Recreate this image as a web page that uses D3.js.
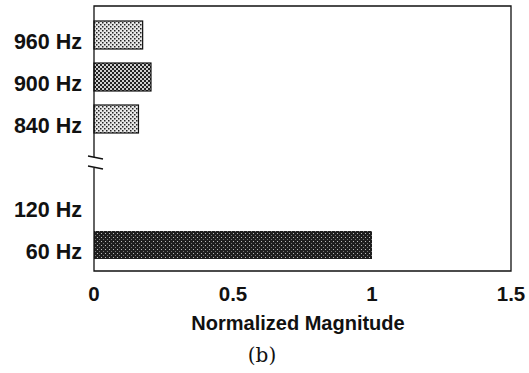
<!DOCTYPE html>
<html>
<head>
<meta charset="utf-8">
<script src="https://cdn.jsdelivr.net/npm/d3@7"></script>
<style>
  body { margin: 0; background: #fff; }
  text { font-family: "Liberation Sans", Arial, sans-serif; font-weight: bold; fill: #111; }
  .caption { font-family: "DejaVu Serif", "Liberation Serif", serif; font-weight: normal; }
</style>
</head>
<body>
<div id="container"></div>
<script>
const categories = ["960 Hz", "900 Hz", "840 Hz", "", "120 Hz", "60 Hz"];
const magnitudes = [0.175, 0.205, 0.16, null, 0, 1.0];
const fills = ["light", "medium", "light", null, null, "dark"];
const xTicks = [0, 0.5, 1, 1.5];
const xTickLabels = ["0", "0.5", "1", "1.5"];

const width = 529;
const height = 373;
const box = { left: 94, right: 511, top: 6, bot: 271 };

const svg = d3.select("#container")
              .append("svg")
              .attr("width", width)
              .attr("height", height);

// stipple patterns
const defs = svg.append("defs");
const light = defs.append("pattern").attr("id", "light")
                  .attr("width", 4).attr("height", 4).attr("patternUnits", "userSpaceOnUse");
light.append("rect").attr("width", 4).attr("height", 4).attr("fill", "#e8e8e8");
light.append("rect").attr("x", 0).attr("y", 0).attr("width", 1.5).attr("height", 1.5).attr("fill", "#222");
light.append("rect").attr("x", 2).attr("y", 2).attr("width", 1.5).attr("height", 1.5).attr("fill", "#222");

const medium = defs.append("pattern").attr("id", "medium")
                   .attr("width", 4).attr("height", 4).attr("patternUnits", "userSpaceOnUse");
medium.append("rect").attr("width", 4).attr("height", 4).attr("fill", "#cfcfcf");
medium.append("rect").attr("x", 0).attr("y", 0).attr("width", 2).attr("height", 2).attr("fill", "#222");
medium.append("rect").attr("x", 2).attr("y", 2).attr("width", 2).attr("height", 2).attr("fill", "#222");

const dark = defs.append("pattern").attr("id", "dark")
                 .attr("width", 4).attr("height", 4).attr("patternUnits", "userSpaceOnUse");
dark.append("rect").attr("width", 4).attr("height", 4).attr("fill", "#1e1e1e");
dark.append("rect").attr("x", 1).attr("y", 1).attr("width", 1).attr("height", 1).attr("fill", "#bbb");
dark.append("rect").attr("x", 3).attr("y", 3).attr("width", 1).attr("height", 1).attr("fill", "#777");

const xScale = d3.scaleLinear()
                 .domain([0, 1.5])
                 .range([box.left, box.right]);
const yScale = d3.scalePoint()
                 .domain(categories)
                 .range([35, 245]);
const barHeight = 28;

// bars
const rows = categories.map((c, i) => ({ cat: c, val: magnitudes[i], fill: fills[i] }))
                       .filter((d) => d.val);
svg.append("g")
   .selectAll("rect")
   .data(rows)
   .enter()
   .append("rect")
   .attr("x", xScale(0))
   .attr("y", (d) => yScale(d.cat) - barHeight / 2)
   .attr("width", (d) => xScale(d.val) - xScale(0))
   .attr("height", barHeight)
   .attr("fill", (d) => "url(#" + d.fill + ")")
   .attr("stroke", (d) => d.fill == "dark" ? "none" : "#111")
   .attr("stroke-width", 1.2);

// frame, left axis broken between 840 Hz and 120 Hz
const breakY = yScale("");
const frame = svg.append("g").attr("stroke", "#111").attr("stroke-width", 1.3).attr("fill", "none");
frame.append("path").attr("d", "M" + box.left + "," + (breakY - 4) + "V" + box.top + "H" + box.right + "V" + box.bot + "H" + box.left + "V" + (breakY + 7));
frame.append("line").attr("x1", box.left - 6).attr("y1", breakY - 5).attr("x2", box.left + 9).attr("y2", breakY - 2);
frame.append("line").attr("x1", box.left - 6).attr("y1", breakY + 5).attr("x2", box.left + 9).attr("y2", breakY + 8);

// y labels
svg.append("g")
   .selectAll("text")
   .data(categories.filter((c) => c))
   .enter()
   .append("text")
   .attr("x", 82)
   .attr("y", (d) => yScale(d) + 14)
   .attr("text-anchor", "end")
   .style("font-size", "21.5px")
   .text((d) => d);

// x tick labels
svg.append("g")
   .selectAll("text")
   .data(xTicks)
   .enter()
   .append("text")
   .attr("x", (d) => xScale(d))
   .attr("y", 301)
   .attr("text-anchor", "middle")
   .style("font-size", "20.5px")
   .text((d, i) => xTickLabels[i]);

svg.append("text")
   .attr("x", 298)
   .attr("y", 330)
   .attr("text-anchor", "middle")
   .style("font-size", "20px")
   .text("Normalized Magnitude");

svg.append("text")
   .attr("class", "caption")
   .attr("x", 262)
   .attr("y", 362)
   .attr("text-anchor", "middle")
   .style("font-size", "20px")
   .text("(b)");
</script>
</body>
</html>
